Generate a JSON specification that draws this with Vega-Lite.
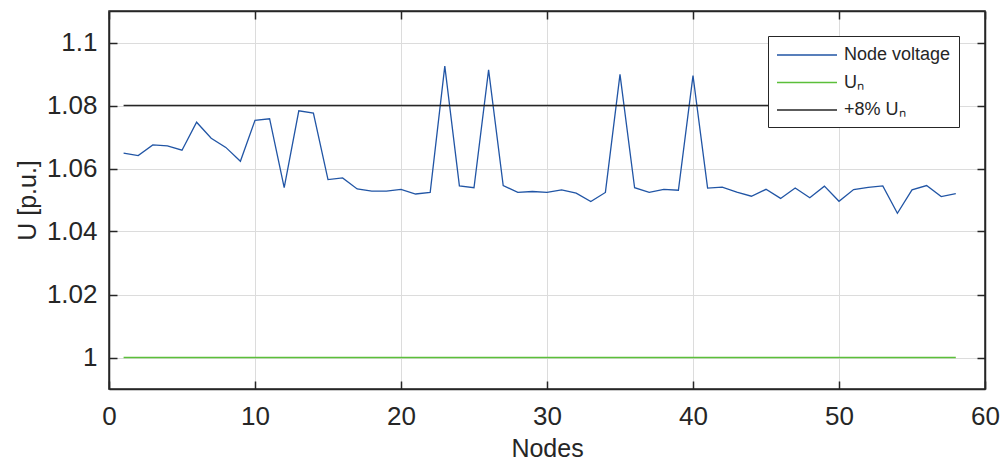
{
  "$schema": "https://vega.github.io/schema/vega-lite/v6.json",
  "width": 876,
  "height": 378,
  "autosize": "none",
  "padding": {"left": 109, "top": 11, "right": 17, "bottom": 74},
  "background": "white",
  "config": {
    "font": "Liberation Sans",
    "view": {"stroke": "#262626", "strokeWidth": 1.5},
    "axis": {
      "labelFont": "Liberation Sans",
      "titleFont": "Liberation Sans",
      "labelFontSize": 26,
      "titleFontSize": 25,
      "titleFontWeight": "normal",
      "labelColor": "#262626",
      "titleColor": "#262626",
      "domainColor": "#262626",
      "domainWidth": 1.5,
      "tickColor": "#262626",
      "tickWidth": 1.5,
      "tickSize": -8,
      "labelFlush": false,
      "gridColor": "#dcdcdc",
      "gridWidth": 1
    }
  },
  "data": {
    "values": [
      {"node": 1, "u": 1.0649, "s": "Node voltage"},
      {"node": 2, "u": 1.0641, "s": "Node voltage"},
      {"node": 3, "u": 1.0675, "s": "Node voltage"},
      {"node": 4, "u": 1.0672, "s": "Node voltage"},
      {"node": 5, "u": 1.0658, "s": "Node voltage"},
      {"node": 6, "u": 1.0747, "s": "Node voltage"},
      {"node": 7, "u": 1.0696, "s": "Node voltage"},
      {"node": 8, "u": 1.0667, "s": "Node voltage"},
      {"node": 9, "u": 1.0623, "s": "Node voltage"},
      {"node": 10, "u": 1.0753, "s": "Node voltage"},
      {"node": 11, "u": 1.0758, "s": "Node voltage"},
      {"node": 12, "u": 1.0539, "s": "Node voltage"},
      {"node": 13, "u": 1.0783, "s": "Node voltage"},
      {"node": 14, "u": 1.0776, "s": "Node voltage"},
      {"node": 15, "u": 1.0565, "s": "Node voltage"},
      {"node": 16, "u": 1.0570, "s": "Node voltage"},
      {"node": 17, "u": 1.0535, "s": "Node voltage"},
      {"node": 18, "u": 1.0528, "s": "Node voltage"},
      {"node": 19, "u": 1.0528, "s": "Node voltage"},
      {"node": 20, "u": 1.0534, "s": "Node voltage"},
      {"node": 21, "u": 1.0519, "s": "Node voltage"},
      {"node": 22, "u": 1.0524, "s": "Node voltage"},
      {"node": 23, "u": 1.0925, "s": "Node voltage"},
      {"node": 24, "u": 1.0545, "s": "Node voltage"},
      {"node": 25, "u": 1.0539, "s": "Node voltage"},
      {"node": 26, "u": 1.0913, "s": "Node voltage"},
      {"node": 27, "u": 1.0546, "s": "Node voltage"},
      {"node": 28, "u": 1.0524, "s": "Node voltage"},
      {"node": 29, "u": 1.0527, "s": "Node voltage"},
      {"node": 30, "u": 1.0524, "s": "Node voltage"},
      {"node": 31, "u": 1.0532, "s": "Node voltage"},
      {"node": 32, "u": 1.0522, "s": "Node voltage"},
      {"node": 33, "u": 1.0495, "s": "Node voltage"},
      {"node": 34, "u": 1.0524, "s": "Node voltage"},
      {"node": 35, "u": 1.0899, "s": "Node voltage"},
      {"node": 36, "u": 1.0539, "s": "Node voltage"},
      {"node": 37, "u": 1.0524, "s": "Node voltage"},
      {"node": 38, "u": 1.0534, "s": "Node voltage"},
      {"node": 39, "u": 1.0531, "s": "Node voltage"},
      {"node": 40, "u": 1.0895, "s": "Node voltage"},
      {"node": 41, "u": 1.0538, "s": "Node voltage"},
      {"node": 42, "u": 1.0541, "s": "Node voltage"},
      {"node": 43, "u": 1.0525, "s": "Node voltage"},
      {"node": 44, "u": 1.0512, "s": "Node voltage"},
      {"node": 45, "u": 1.0534, "s": "Node voltage"},
      {"node": 46, "u": 1.0505, "s": "Node voltage"},
      {"node": 47, "u": 1.0538, "s": "Node voltage"},
      {"node": 48, "u": 1.0507, "s": "Node voltage"},
      {"node": 49, "u": 1.0544, "s": "Node voltage"},
      {"node": 50, "u": 1.0496, "s": "Node voltage"},
      {"node": 51, "u": 1.0533, "s": "Node voltage"},
      {"node": 52, "u": 1.0540, "s": "Node voltage"},
      {"node": 53, "u": 1.0545, "s": "Node voltage"},
      {"node": 54, "u": 1.0458, "s": "Node voltage"},
      {"node": 55, "u": 1.0532, "s": "Node voltage"},
      {"node": 56, "u": 1.0546, "s": "Node voltage"},
      {"node": 57, "u": 1.0511, "s": "Node voltage"},
      {"node": 58, "u": 1.0520, "s": "Node voltage"},
      {"node": 1, "u": 1.0, "s": "Uₙ"},
      {"node": 58, "u": 1.0, "s": "Uₙ"},
      {"node": 1, "u": 1.08, "s": "+8% Uₙ"},
      {"node": 58, "u": 1.08, "s": "+8% Uₙ"}
    ]
  },
  "layer": [
    {
      "mark": {"type": "line", "strokeWidth": 1.3},
      "encoding": {
        "x": {
          "field": "node", "type": "quantitative",
          "scale": {"domain": [0, 60], "nice": false, "zero": false},
          "axis": {"values": [0, 10, 20, 30, 40, 50, 60], "title": "Nodes", "labelPadding": 22, "titlePadding": 7}
        },
        "y": {
          "field": "u", "type": "quantitative",
          "scale": {"domain": [0.99, 1.11], "nice": false, "zero": false},
          "axis": {"values": [1, 1.02, 1.04, 1.06, 1.08, 1.1], "labelExpr": "format(datum.value, '~g')", "title": "U [p.u.]", "labelPadding": 20, "titlePadding": 6}
        },
        "color": {
          "field": "s", "type": "nominal",
          "scale": {"domain": ["Node voltage", "Uₙ", "+8% Uₙ"], "range": ["#2155a5", "#5bbf3a", "#262626"]},
          "legend": {
            "title": null,
            "orient": "none",
            "legendX": 659,
            "legendY": 25,
            "strokeColor": "#262626",
            "fillColor": "white",
            "padding": 8,
            "symbolType": "M-1,0H5",
            "symbolSize": 400,
            "symbolStrokeWidth": 1.3,
            "labelFontSize": 18,
            "labelFont": "Liberation Sans",
            "labelColor": "#262626",
            "labelOffset": 46,
            "rowPadding": 7.5
          }
        }
      }
    },
    {
      "mark": {"type": "line", "opacity": 0},
      "encoding": {
        "x": {"field": "node", "type": "quantitative", "axis": {"orient": "top", "values": [0, 10, 20, 30, 40, 50, 60], "labels": false, "grid": false, "title": null}},
        "y": {"field": "u", "type": "quantitative", "axis": {"orient": "right", "values": [1, 1.02, 1.04, 1.06, 1.08, 1.1], "labels": false, "grid": false, "title": null}}
      }
    }
  ],
  "resolve": {"axis": {"x": "independent", "y": "independent"}}
}
